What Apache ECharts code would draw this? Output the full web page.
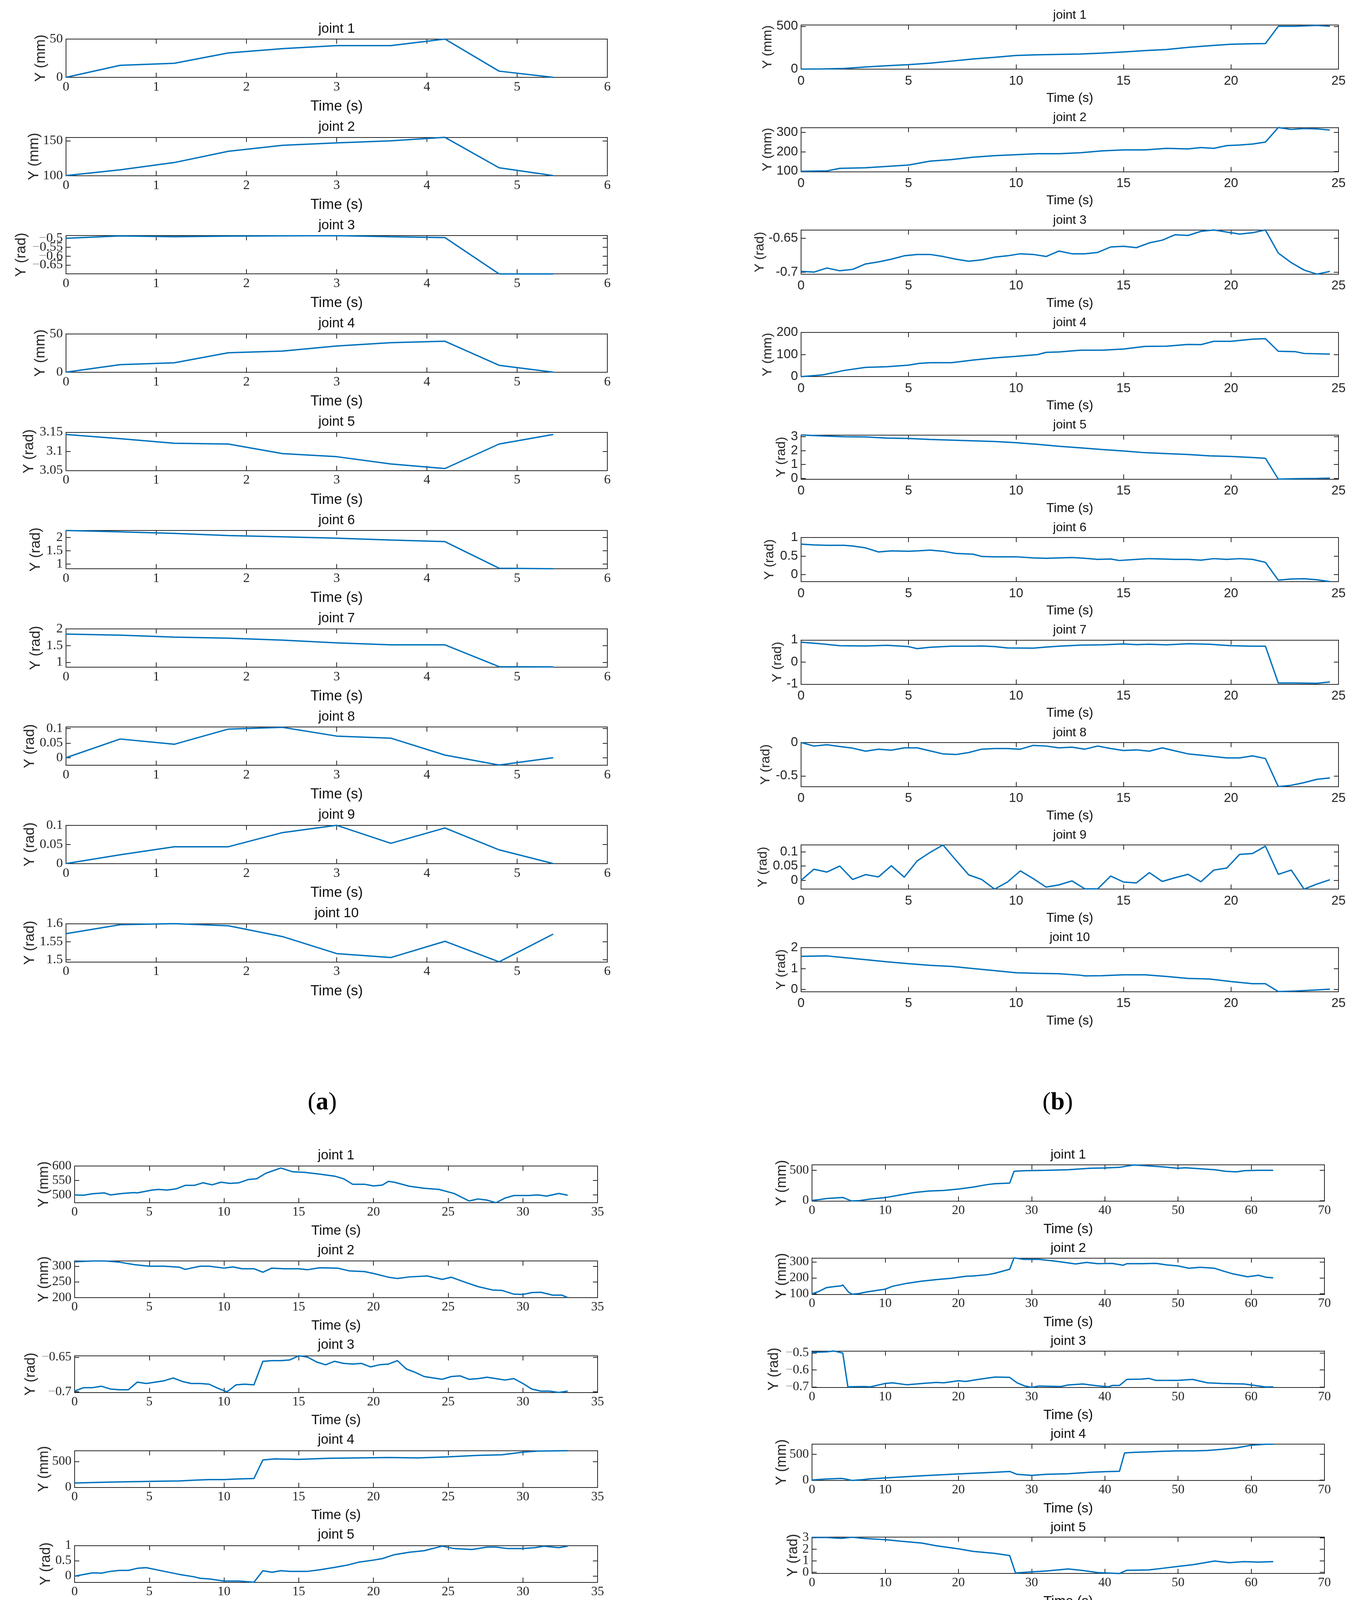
<!DOCTYPE html>
<html><head><meta charset="utf-8">
<script src="https://cdn.jsdelivr.net/npm/echarts@6/dist/echarts.min.js"></script>
<style>html,body{margin:0;padding:0;background:#fff}#c{width:3459px;height:5626px}</style>
</head><body><div id="c"></div>
<script>
// ---------------- DATA ----------------
// Panel (a): common time base
const aTime = [0,0.6,1.2,1.8,2.4,3.0,3.6,4.2,4.8,5.4];
const aJ1 = [0,15.7,18.4,31.9,37.5,41.4,41.4,50,8.1,0];
const aJ2 = [100,108.3,118.8,135,143.5,147,150,155,111.3,100];
const aJ3 = [-0.5,-0.487,-0.491,-0.488,-0.486,-0.485,-0.491,-0.496,-0.70,-0.70];
const aJ4 = [0,9.8,12.3,25.4,27.6,34.2,38.5,40.4,9.0,0];
const aJ5 = [3.144,3.133,3.121,3.119,3.094,3.086,3.067,3.055,3.119,3.144];
const aJ6 = [2.26,2.21,2.15,2.07,2.02,1.97,1.90,1.84,0.84,0.82];
const aJ7 = [1.84,1.81,1.75,1.72,1.66,1.58,1.52,1.52,0.87,0.865];
const aJ8 = [0,0.064,0.046,0.098,0.104,0.074,0.067,0.009,-0.025,0];
const aJ9 = [0,0.023,0.044,0.044,0.081,0.1,0.053,0.093,0.036,0];
const aJ10 = [1.572,1.597,1.6,1.594,1.564,1.517,1.506,1.551,1.494,1.571];

// Panel (b)
const bTime = [0,0.6,1.2,1.8,2.4,3.0,3.6,4.2,4.8,5.4,6.0,6.6,7.2,7.8,8.4,9.0,9.6,10.2,10.8,11.4,12.0,12.6,13.2,13.8,14.4,15.0,15.6,16.2,16.8,17.4,18.0,18.6,19.2,19.8,20.4,21.0,21.6,22.2,22.8,23.4,24.0,24.6];
const b1 = [[0,0],[1,2],[2,8],[3,25],[4,40],[5,52],[6,69],[7,94],[8,118],[9,138],[10,160],[11,167],[12,172],[13,177],[14,187],[15,200],[16,217],[17,229],[18,254],[19,273],[20,290],[21,296],[21.6,298],[22.2,500],[23,500],[24,510],[24.6,500]];
const b2 = [[0,100],[1.2,102],[1.8,115],[3,118],[4,125],[5,132],[6,152],[7,160],[8,172],[9,180],[10,185],[11,190],[12,190],[13,195],[14,205],[15,210],[16,210],[17,218],[18,215],[18.6,222],[19.2,218],[19.8,232],[20.4,235],[21,240],[21.6,250],[22.2,325],[22.8,315],[23.4,320],[24,318],[24.6,312]];
const b3v = [-0.699,-0.70,-0.694,-0.698,-0.696,-0.688,-0.685,-0.681,-0.676,-0.674,-0.674,-0.677,-0.681,-0.684,-0.682,-0.678,-0.676,-0.673,-0.674,-0.677,-0.669,-0.673,-0.673,-0.671,-0.663,-0.662,-0.664,-0.657,-0.653,-0.645,-0.646,-0.640,-0.638,-0.641,-0.644,-0.642,-0.638,-0.672,-0.686,-0.697,-0.703,-0.699];
const b4 = [[0,0],[1,8],[2,28],[3,42],[4,45],[5,52],[5.5,60],[6,63],[7,63],[8,75],[9,85],[10,92],[11,100],[11.4,110],[12,112],[13,120],[14,120],[15,125],[16,137],[17,138],[18,146],[18.6,145],[19.2,160],[20,160],[21,170],[21.6,172],[22.2,115],[23,113],[23.4,105],[24.6,102]];
const b5 = [[0,3.12],[1,3.05],[2,3.0],[3,2.98],[4,2.9],[5,2.87],[6,2.8],[7,2.75],[8,2.7],[9,2.65],[10,2.57],[11,2.45],[12,2.31],[13,2.2],[14,2.08],[15,1.97],[16,1.85],[17,1.78],[18,1.72],[19,1.62],[20,1.58],[21,1.5],[21.6,1.45],[22.2,-0.05],[23,-0.02],[24,0],[24.6,0.02]];
const b6 = [[0,0.82],[0.6,0.8],[1.2,0.79],[2,0.79],[2.4,0.77],[3,0.72],[3.6,0.61],[4.2,0.64],[5,0.63],[5.4,0.64],[6,0.66],[6.6,0.63],[7.2,0.57],[8,0.55],[8.4,0.49],[9,0.48],[10,0.48],[10.8,0.45],[11.4,0.44],[12,0.45],[12.6,0.46],[13.2,0.44],[13.8,0.41],[14.4,0.42],[14.8,0.38],[15.6,0.41],[16.2,0.43],[16.8,0.42],[17.4,0.41],[18,0.41],[18.6,0.39],[19.2,0.43],[19.8,0.41],[20.4,0.43],[21,0.41],[21.6,0.33],[22.2,-0.15],[22.8,-0.12],[23.4,-0.11],[24,-0.14],[24.6,-0.19]];
const b7 = [[0,0.9],[1,0.82],[1.8,0.74],[3,0.73],[4,0.76],[5,0.7],[5.4,0.61],[6,0.67],[7,0.72],[8,0.72],[8.4,0.73],[9,0.7],[9.6,0.64],[10.8,0.63],[11.4,0.68],[12,0.72],[13,0.77],[14,0.78],[15,0.82],[15.6,0.79],[16.2,0.81],[17,0.78],[18,0.83],[19,0.81],[20,0.74],[21,0.72],[21.6,0.72],[22.2,-0.95],[23,-0.95],[24,-0.96],[24.6,-0.9]];
const b8v = [0,-0.053,-0.033,-0.06,-0.085,-0.13,-0.1,-0.115,-0.08,-0.08,-0.125,-0.17,-0.18,-0.15,-0.1,-0.09,-0.09,-0.1,-0.043,-0.053,-0.08,-0.07,-0.1,-0.053,-0.09,-0.12,-0.11,-0.13,-0.08,-0.125,-0.17,-0.19,-0.21,-0.23,-0.23,-0.2,-0.24,-0.66,-0.64,-0.6,-0.55,-0.53];
const b9v = [0,0.039,0.029,0.05,0.003,0.02,0.012,0.051,0.011,0.068,0.098,0.124,0.071,0.019,0.003,-0.031,-0.006,0.033,0.006,-0.024,-0.016,-0.002,-0.03,-0.03,0.015,-0.006,-0.009,0.027,-0.004,0.009,0.021,-0.005,0.036,0.043,0.091,0.094,0.12,0.021,0.036,-0.031,-0.013,0.002];
const b10 = [[0,1.58],[1.2,1.6],[2,1.52],[3,1.42],[4,1.32],[5,1.23],[6,1.15],[7,1.1],[8,1.0],[9,0.9],[10,0.8],[11,0.77],[12,0.75],[13,0.68],[13.2,0.65],[14,0.66],[15,0.7],[16,0.7],[17,0.62],[18,0.53],[19,0.5],[20,0.38],[21,0.28],[21.6,0.28],[22.2,-0.1],[23,-0.07],[24,-0.02],[24.6,0.02]];

// Panel (c)
const c1 = [[0,500],[0.6,499],[1.2,504],[2,507],[2.4,500],[3.2,505],[4,508],[4.2,507],[5.2,517],[5.6,519],[6.2,517],[6.8,521],[7.4,533],[8,533],[8.6,542],[9.2,535],[9.8,544],[10.4,540],[11,542],[11.6,553],[12.2,556],[12.8,575],[13.8,593],[14.6,580],[15.4,578],[16.4,572],[17.4,565],[18,556],[18.6,537],[19.4,537],[20,531],[20.6,534],[21,547],[21.4,544],[22.4,530],[23.4,523],[24.4,519],[25.4,505],[26.4,479],[27,486],[27.6,482],[28.2,473],[28.8,489],[29.4,498],[30.4,498],[31,500],[31.6,496],[32.4,505],[33,499]];
const c2 = [[0,314],[1.2,317],[2,317],[3,313],[4,305],[5,300],[6,300],[7,297],[7.4,290],[8.4,300],[9,300],[10,294],[10.6,298],[11.2,292],[12,292],[12.6,281],[13.2,294],[14,292],[15,292],[15.6,289],[16.4,295],[17.6,294],[18.4,285],[19.4,283],[20,277],[21,265],[21.6,261],[22.4,266],[23.6,269],[24.6,258],[25.2,265],[26.2,248],[27,235],[28,224],[28.6,223],[29.4,211],[30,210],[30.6,216],[31.2,217],[32,208],[32.6,208],[33,200]];
const c3 = [[0,-0.699],[0.6,-0.694],[1.2,-0.694],[1.8,-0.692],[2.4,-0.696],[3,-0.697],[3.6,-0.697],[4.2,-0.686],[4.8,-0.688],[5.4,-0.686],[6,-0.684],[6.6,-0.68],[7.2,-0.685],[7.8,-0.688],[8.4,-0.688],[9,-0.689],[9.6,-0.695],[10.2,-0.7],[10.8,-0.69],[11.4,-0.689],[12,-0.69],[12.6,-0.656],[13.2,-0.655],[13.8,-0.655],[14.4,-0.654],[15,-0.648],[15.6,-0.65],[16.2,-0.657],[16.8,-0.661],[17.4,-0.656],[18,-0.659],[18.6,-0.66],[19.2,-0.659],[19.8,-0.664],[20.4,-0.661],[21,-0.66],[21.6,-0.655],[22.2,-0.667],[22.8,-0.672],[23.4,-0.678],[24,-0.68],[24.6,-0.682],[25.2,-0.678],[25.8,-0.677],[26.4,-0.682],[27,-0.681],[27.6,-0.679],[28.2,-0.681],[28.8,-0.683],[29.4,-0.681],[30,-0.688],[30.6,-0.696],[31.2,-0.699],[31.8,-0.699],[32.4,-0.701],[33,-0.699]];
const c4 = [[0,84],[2,100],[4,112],[6,120],[7,124],[8,140],[9,152],[10,152],[11,164],[12,172],[12.6,532],[13.4,552],[15,544],[17,564],[19,572],[21,580],[23,572],[25,592],[27,620],[28.6,632],[30,684],[31,704],[33,712]];
const c5 = [[0,-0.01],[1.2,0.1],[1.8,0.09],[2.4,0.15],[3,0.18],[3.6,0.18],[4.2,0.25],[4.8,0.27],[6,0.15],[7,0.05],[8,-0.03],[8.4,-0.08],[9,-0.1],[10,-0.17],[11,-0.17],[12,-0.21],[12.6,0.17],[13.2,0.12],[13.8,0.17],[14.4,0.15],[15,0.15],[15.6,0.15],[16.4,0.2],[17.4,0.28],[18.2,0.35],[19,0.45],[20,0.52],[20.6,0.57],[21.4,0.7],[22.4,0.78],[23.4,0.83],[24.6,0.98],[25.4,0.9],[26.6,0.87],[27.6,0.95],[28.2,0.95],[29,0.9],[30,0.9],[30.8,0.93],[31.4,0.98],[32.4,0.93],[33,0.98]];
const c6 = [[0,-0.18],[1,-0.13],[2,-0.04],[2.6,-0.04],[3.4,0.04],[4.4,0.13],[5.4,0.21],[6.2,0.26],[6.8,0.23],[7.6,0.31],[8.4,0.35],[9.6,0.35],[10.4,0.3],[11,0.31],[11.6,0.29],[12,0.37],[12.6,0.8],[13.8,0.8],[14.6,0.7],[15.4,0.62],[17,0.57],[18,0.52],[18.6,0.47],[19.2,0.51],[20.4,0.41],[21.4,0.35],[22,0.33],[23.4,0.2],[24.6,0.1],[25.6,-0.02],[27,-0.16],[28.6,-0.29],[30,-0.45],[30.6,-0.41],[31.4,-0.45],[33,-0.62]];
const c7 = [[0,-0.9],[1,-0.96],[2.6,-0.9],[3,-0.9],[4,-0.79],[5,-0.74],[6,-0.66],[7.6,-0.6],[8.4,-0.55],[9.6,-0.45],[10,-0.41],[11.4,-0.32],[12,-0.3],[12.6,0.33],[13.4,0.42],[14.4,0.48],[15.4,0.44],[16.4,0.53],[17.4,0.59],[18.6,0.61],[19.4,0.62],[20.4,0.76],[21.4,0.76],[22.4,0.79],[23.4,0.84],[24.4,0.79],[26,0.78],[28,0.76],[29,0.73],[30,0.76],[31,0.76],[32,0.81],[32.6,0.84],[33,0.79]];
const c8 = [[0,-0.51],[0.6,-0.58],[1.2,-0.53],[2,-0.57],[3,-0.59],[4,-0.64],[5,-0.7],[6,-0.75],[7,-0.8],[8,-0.85],[9,-0.92],[10,-0.98],[11,-1.05],[12,-1.1],[12.6,-1.4],[13.4,-1.37],[14.6,-1.37],[15.6,-1.43],[16.8,-1.37],[18,-1.35],[18.6,-1.38],[19.6,-1.31],[20.6,-1.3],[21.6,-1.3],[22,-1.23],[22.6,-1.25],[24,-1.19],[25,-1.14],[26,-1.12],[27,-1.04],[28,-1.01],[29,-0.93],[30,-0.86],[31,-0.79],[32,-0.74],[32.4,-0.74],[33,-0.79]];
const c9 = [[0,0],[1,0.03],[2,0.08],[2.6,0.12],[3.2,0.18],[4,0.21],[4.6,0.21],[5.2,0.27],[6,0.3],[7,0.38],[8,0.45],[9,0.5],[9.6,0.54],[10.2,0.61],[11,0.55],[12,0.48],[12.6,0.03],[13.2,0.03],[14,-0.04],[15,-0.11],[16,-0.19],[17,-0.24],[18,-0.32],[19,-0.35],[19.8,-0.37],[20.4,-0.32],[21,-0.33],[22,-0.32],[22.6,-0.3],[23.4,-0.36],[24.4,-0.33],[25.2,-0.35],[26,-0.29],[26.4,-0.33],[27.4,-0.27],[28.6,-0.19],[29.4,-0.16],[30,-0.13],[30.6,-0.08],[31.4,0.03],[31.8,0.07],[32.4,0.04],[33,0]];
const c10 = [[0,0],[0.6,0.058],[1.2,0.09],[1.8,0.11],[2.4,0.166],[3,0.21],[3.6,0.2],[4.2,0.176],[4.8,0.13],[5.4,0.13],[6,0.09],[6.6,0.08],[7.2,0.043],[7.8,0.095],[8.4,0.09],[9,0.026],[9.6,0],[10.2,-0.006],[10.8,-0.06],[11.4,-0.1],[12,-0.125],[12.6,-0.185],[13.2,-0.146],[13.8,-0.1],[14.4,-0.12],[15,-0.05],[15.6,0.004],[16.2,-0.01],[16.8,0.026],[17.4,0.073],[18,0.12],[18.6,0.1],[19.2,0.054],[19.8,0.052],[20.4,0.047],[21,0.058],[21.6,0.015],[22.2,-0.006],[22.8,-0.065],[23.4,-0.06],[24,-0.034],[24.6,-0.065],[25.2,-0.054],[25.8,-0.032],[26.4,-0.071],[27,-0.125],[27.6,-0.11],[28.2,-0.071],[28.8,-0.092],[29.4,-0.135],[30,-0.1],[30.6,-0.1],[31.2,-0.065],[31.8,-0.065],[32.4,-0.022],[33,0]];

// Panel (d)
const d1 = [[0,3],[1,16],[2,33],[4,49],[4.2,52],[5.4,-7],[6.5,0],[8,26],[10,49],[12,92],[14,134],[16,157],[18,167],[20,190],[22,222],[24,265],[25,278],[27,288],[27.6,484],[29,493],[32,500],[35,510],[38,533],[40,539],[42,549],[44,588],[46,572],[48,556],[50,533],[51,542],[53,526],[55,510],[56.5,484],[58,474],[59,493],[61,500],[63,500]];
const d2 = [[0,100],[1,116],[2,139],[3,145],[4,150],[4.2,156],[5,110],[5.5,97],[6.5,102],[7.5,112],[10,129],[11,147],[13,166],[15,179],[17,189],[19,197],[21,210],[22,212],[24,220],[25,229],[27,254],[27.6,325],[29,316],[31,316],[33,306],[35,294],[36,287],[37.5,297],[39,289],[41,291],[42.5,279],[43,289],[45,289],[47,291],[48.5,281],[50,275],[51.5,260],[53,266],[55,260],[56,245],[57.5,225],[59.5,207],[61,216],[62,204],[63,200]];
const d3 = [[0,-0.496],[2,-0.493],[3,-0.488],[4.2,-0.5],[4.9,-0.7],[7,-0.698],[8,-0.7],[10,-0.68],[11,-0.676],[13,-0.688],[15,-0.68],[17,-0.674],[18,-0.676],[20,-0.664],[21,-0.668],[23,-0.654],[25,-0.642],[27,-0.644],[28,-0.676],[29,-0.694],[30,-0.703],[31,-0.695],[34,-0.698],[35,-0.689],[37,-0.683],[39,-0.694],[40.5,-0.7],[41,-0.692],[42,-0.692],[43,-0.656],[45,-0.654],[46,-0.65],[47,-0.662],[50,-0.662],[52,-0.656],[54,-0.676],[56,-0.68],[59,-0.683],[60.5,-0.692],[62,-0.701],[63,-0.7]];
const d4 = [[0,0],[2,20],[4,32],[4.4,24],[5.5,-8],[7,8],[8,24],[10,40],[15,83],[20,119],[25,151],[27,167],[28,111],[30,91],[32,111],[35,123],[38,151],[40,163],[42,171],[42.7,528],[44,540],[46,548],[48,560],[50,567],[52,567],[54,575],[56,599],[58,627],[60,679],[62,698],[63,698]];
const d5 = [[0,3.02],[2,3.02],[4,2.95],[5.5,3.05],[7,2.95],[10,2.84],[12,2.71],[15,2.54],[17,2.3],[20,2.04],[22,1.82],[25,1.64],[27,1.46],[27.8,-0.05],[29,0],[32,0.12],[35,0.3],[37,0.16],[39,-0.02],[42,-0.1],[43,0.18],[46,0.21],[48,0.36],[50,0.52],[52,0.66],[55,0.98],[57,0.84],[59,0.93],[61,0.89],[63,0.93]];
const d6 = [[0,2.19],[2,2.05],[4,1.81],[4.5,1.77],[5,0.86],[7,0.83],[8,0.78],[9,0.62],[11,0.64],[13,0.55],[15,0.47],[18,0.44],[20,0.36],[22,0.44],[25,0.44],[27,0.33],[28,-0.11],[29,-0.08],[30,-0.19],[32,-0.06],[35,0.16],[38,0.36],[40,0.36],[42,0.31],[43,0.83],[44.5,0.8],[47,0.62],[50,0.48],[52,0.36],[55,0.12],[58,-0.14],[60,-0.34],[61,-0.39],[63,-0.58]];
const d7 = [[0,1.84],[2,1.71],[4,1.55],[4.2,1.55],[5,0.91],[7,0.83],[8,0.75],[10,0.75],[11,0.64],[13,0.75],[15,0.67],[17,0.67],[19,0.83],[22,0.83],[24,0.88],[26,0.78],[27,0.72],[27.7,-0.85],[30,-0.85],[32,-0.77],[35,-0.61],[38,-0.45],[40,-0.29],[42,-0.21],[43,0.35],[45,0.46],[47,0.51],[50,0.67],[52,0.8],[54,0.86],[56,0.78],[58,0.75],[60,0.75],[62,0.8],[63,0.8]];
const d8 = [[0,-0.02],[2,0.06],[4,0.02],[5,-0.04],[7,-0.1],[8,-0.14],[10,-0.14],[12,-0.2],[13,-0.16],[15,-0.12],[17,-0.1],[19,-0.12],[20,-0.1],[22,-0.16],[23,-0.14],[25,-0.26],[27,-0.26],[28,-0.68],[30,-0.56],[32,-0.58],[35,-0.7],[38,-0.88],[40,-0.96],[42,-1.1],[43,-1.4],[46,-1.42],[48,-1.36],[50,-1.3],[53,-1.22],[56,-1.1],[58,-1.04],[60,-0.94],[62,-0.76],[63,-0.8]];
const d9 = [[0,-0.01],[2,0.04],[3,0.08],[4,0.05],[5,0.01],[6,0.04],[8,0.01],[10,0.03],[12,0.12],[14,-0.01],[15,-0.03],[16,0.02],[18,-0.02],[20,-0.03],[22,0.01],[24,0],[26,0.08],[27,0.12],[28,0],[29,-0.03],[31,-0.01],[33,0.16],[35,0.25],[37,0.37],[39,0.49],[40.4,0.6],[42,0.47],[43,0.02],[45,-0.08],[47,-0.19],[49,-0.32],[50,-0.35],[52,-0.33],[54,-0.34],[56,-0.33],[58,-0.25],[60,-0.17],[61,-0.08],[62,0.06],[63,0]];
const d10 = [[0,1.58],[2,1.58],[4,1.52],[5,1.52],[6,1.58],[7,1.58],[9,1.37],[11,1.2],[13,1.05],[15,0.85],[17,0.73],[19,0.63],[21,0.69],[23,0.51],[25,0.36],[27,0.27],[27.8,-0.17],[30,0.01],[33,0.21],[35,0.15],[37,0.1],[39,0.1],[41,-0.02],[43,-0.18],[45,-0.08],[47,0.04],[48.5,0.15],[50,0.07],[52,0.04],[54,-0.06],[56,-0.06],[57,-0.14],[60,-0.12],[62,-0.05],[63,0]];

// Axis ranges and tick labels
const aRanges = [[0,50],[100,155],[-0.70,-0.485],[0,50],[3.05,3.15],[0.82,2.26],[0.86,2],[-0.026,0.105],[0,0.1],[1.494,1.6]];
const aTicks = [[0,50],[100,150],[-0.65,-0.6,-0.55,-0.5],[0,50],[3.05,3.1,3.15],[1,1.5,2],[1,1.5,2],[0,0.05,0.1],[0,0.05,0.1],[1.5,1.55,1.6]];
const bRanges = [[0,515],[98,325],[-0.703,-0.638],[0,200],[-0.05,3.12],[-0.19,1],[-1,1],[-0.66,0],[-0.031,0.124],[-0.1,2]];
const bTicks = [[0,500],[100,200,300],[-0.7,-0.65],[0,100,200],[0,1,2,3],[0,0.5,1],[-1,0,1],[-0.5,0],[0,0.05,0.1],[0,1,2]];
const cRanges = [[473,600],[200,317],[-0.701,-0.648],[0,712],[-0.21,1],[-0.62,0.8],[-1.02,1],[-1.5,-0.5],[-0.37,0.61],[-0.19,0.21]];
const cTicks = [[500,550,600],[200,250,300],[-0.7,-0.65],[0,500],[0,0.5,1],[-0.5,0,0.5],[-1,0,1],[-1.5,-1,-0.5],[-0.2,0,0.2,0.4,0.6],[-0.1,0,0.1,0.2]];
const dRanges = [[-10,590],[97,325],[-0.703,-0.488],[-8,700],[-0.1,3.05],[-0.58,2.19],[-0.85,2],[-1.42,0.06],[-0.36,0.6],[-0.18,2]];
const dTicks = [[0,500],[100,200,300],[-0.7,-0.6,-0.5],[0,500],[0,1,2,3],[0,1,2],[0,1,2],[-1,-0.5,0],[-0.2,0,0.2,0.4,0.6],[0,1,2]];
const yUnits = ['Y (mm)','Y (mm)','Y (rad)','Y (mm)','Y (rad)','Y (rad)','Y (rad)','Y (rad)','Y (rad)','Y (rad)'];
const jointNames = ['joint 1','joint 2','joint 3','joint 4','joint 5','joint 6','joint 7','joint 8','joint 9','joint 10'];
const panelLetters = ['a','b','c','d'];

// ---------------- LAYOUT ----------------
const SANS = '"Liberation Sans", Arial, Helvetica, sans-serif';
const SERIF = '"Liberation Serif", "DejaVu Serif", serif';
const INK = '#262626';
const zipT = (t, v) => t.map((x, i) => [x, v[i]]);

const panels = [
  { data: [aJ1,aJ2,aJ3,aJ4,aJ5,aJ6,aJ7,aJ8,aJ9,aJ10].map(v => zipT(aTime, v)),
    ranges: aRanges, ticks: aTicks, ylabX: [105,88,55,104,75,92,92,77,77,77],
    left: 169, width: 1386, top: 100, pitch: 251.6, h: 98, xMax: 6, xInt: 1,
    tickFont: SERIF, tickSize: 34, grayMinus: true, titleSize: 35, timeSize: 37, ylabSize: 37,
    titleDy: 26, timeDy: 75, xMargin: 8, yMargin: 8, label: [825, 2823] },
  { data: [b1,b2,zipT(bTime,b3v),b4,b5,b6,b7,zipT(bTime,b8v),zipT(bTime,b9v),b10],
    ranges: bRanges, ticks: bTicks, ylabX: [1966,1966,1946,1966,2001,1971,1991,1961,1954,2001],
    left: 2051, width: 1376, top: 64, pitch: 262.4, h: 113, xMax: 25, xInt: 5,
    tickFont: SANS, tickSize: 33, grayMinus: false, titleSize: 32, timeSize: 33, ylabSize: 34,
    titleDy: 25, timeDy: 75, xMargin: 14, yMargin: 8, label: [2708, 2823] },
  { data: [c1,c2,c3,c4,c5,c6,c7,c8,c9,c10],
    ranges: cRanges, ticks: cTicks, ylabX: [113,113,79,113,118,93,120,93,93,93],
    left: 191, width: 1339, top: 2985, pitch: 242.9, h: 94, xMax: 35, xInt: 5,
    tickFont: SERIF, tickSize: 33, grayMinus: true, titleSize: 35, timeSize: 35, ylabSize: 36,
    titleDy: 27, timeDy: 72, xMargin: 8, yMargin: 8, label: [825, 5560] },
  { data: [d1,d2,d3,d4,d5,d6,d7,d8,d9,d10],
    ranges: dRanges, ticks: dTicks, ylabX: [2002,2002,1982,2002,2031,2031,2031,1982,1982,2031],
    left: 2079, width: 1312, top: 2982, pitch: 238.3, h: 93, xMax: 70, xInt: 10,
    tickFont: SERIF, tickSize: 33, grayMinus: true, titleSize: 34, timeSize: 35, ylabSize: 36,
    titleDy: 25, timeDy: 72, xMargin: 8, yMargin: 8, label: [2708, 5560] }
];

function fmt(v) { return String(+(+v).toFixed(4)); }

const grids = [], xAxes = [], yAxes = [], series = [], graphics = [];
const lineSt = { color: INK, width: 2 };

panels.forEach((P, pi) => {
  const richM = {
    m: { color: '#9a9a9a', fontFamily: P.tickFont, fontSize: P.tickSize },
    n: { color: INK, fontFamily: P.tickFont, fontSize: P.tickSize }
  };
  for (let j = 0; j < 10; j++) {
    const top = P.top + P.pitch * j;
    const gi = grids.length;
    grids.push({ left: P.left, top: top, width: P.width, height: P.h, containLabel: false, outerBoundsMode: 'none' });
    const xi = xAxes.length, yi = yAxes.length;
    const common = { type: 'value', gridIndex: gi, splitLine: { show: false } };
    xAxes.push(Object.assign({}, common, {
      position: 'bottom', min: 0, max: P.xMax, interval: P.xInt,
      axisLine: { show: true, onZero: false, lineStyle: lineSt },
      axisTick: { show: true, inside: true, length: 12, lineStyle: lineSt },
      axisLabel: { show: true, margin: P.xMargin, color: INK, fontFamily: P.tickFont, fontSize: P.tickSize,
                   showMinLabel: true, showMaxLabel: true, hideOverlap: false }
    }));
    xAxes.push(Object.assign({}, common, {
      position: 'top', min: 0, max: P.xMax, interval: P.xInt,
      axisLine: { show: true, onZero: false, lineStyle: lineSt },
      axisTick: { show: true, inside: true, length: 12, lineStyle: lineSt },
      axisLabel: { show: false }
    }));
    const r = P.ranges[j], tk = P.ticks[j];
    // blank placeholder labels sit at the axis ends, so the automatic end-label overlap check
    // drops those blanks instead of any real (crowded) tick label.
    const labelVals = [r[0]].concat(tk, [r[1]]);
    const labelFmt = v => {
      if (!tk.some(t => Math.abs(t - v) < 1e-9)) return '';
      const s = fmt(v);
      if (P.grayMinus && s[0] === '-') return '{m|\u2212}{n|' + s.slice(1) + '}';
      return '{n|' + s + '}';
    };
    yAxes.push(Object.assign({}, common, {
      position: 'left', min: r[0], max: r[1],
      axisLine: { show: true, onZero: false, lineStyle: lineSt },
      axisTick: { show: true, inside: true, length: 12, lineStyle: lineSt, customValues: tk },
      axisLabel: { show: true, margin: P.yMargin, color: INK, fontFamily: P.tickFont, fontSize: P.tickSize,
                   customValues: labelVals, formatter: labelFmt, rich: richM, hideOverlap: false }
    }));
    yAxes.push(Object.assign({}, common, {
      position: 'right', min: r[0], max: r[1],
      axisLine: { show: true, onZero: false, lineStyle: lineSt },
      axisTick: { show: true, inside: true, length: 12, lineStyle: lineSt, customValues: tk },
      axisLabel: { show: false }
    }));
    series.push({
      type: 'line', xAxisIndex: xi, yAxisIndex: yi, data: P.data[j],
      showSymbol: false, symbol: 'none', animation: false, silent: true,
      lineStyle: { color: '#0072BD', width: 3.5 }
    });
    const cx = P.left + P.width / 2;
    graphics.push({ type: 'text', x: cx, y: top - P.titleDy, silent: true,
      style: { text: jointNames[j], font: P.titleSize + 'px ' + SANS, fill: '#111', textAlign: 'center', textVerticalAlign: 'middle' } });
    graphics.push({ type: 'text', x: cx, y: top + P.h + P.timeDy, silent: true,
      style: { text: 'Time (s)', font: P.timeSize + 'px ' + SANS, fill: '#111', textAlign: 'center', textVerticalAlign: 'middle' } });
    graphics.push({ type: 'text', x: P.ylabX[j], y: top + P.h / 2, rotation: Math.PI / 2, silent: true,
      style: { text: yUnits[j], font: P.ylabSize + 'px ' + SANS, fill: INK, textAlign: 'center', textVerticalAlign: 'middle' } });
  }
  graphics.push({ type: 'text', x: P.label[0], y: P.label[1], silent: true,
    style: { text: '({b|' + panelLetters[pi] + '})', font: '64px ' + SERIF, fill: '#000',
      textAlign: 'center', textVerticalAlign: 'middle',
      rich: { b: { fontWeight: 'bold', fontSize: 64, fontFamily: SERIF, fill: '#000', color: '#000' } } } });
});

const chart = echarts.init(document.getElementById('c'), null, { renderer: 'canvas', width: 3459, height: 5626 });
chart.setOption({
  backgroundColor: '#ffffff',
  animation: false,
  grid: grids, xAxis: xAxes, yAxis: yAxes, series: series,
  graphic: { elements: graphics }
});
</script>
</body></html>
